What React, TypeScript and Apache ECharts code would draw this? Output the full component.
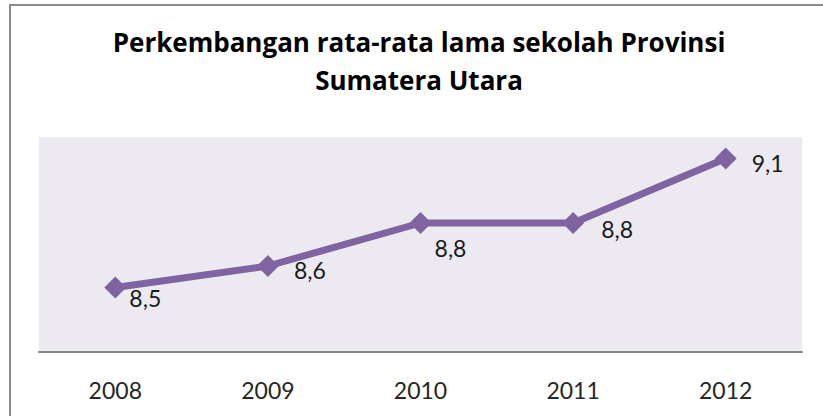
import React, { useEffect, useRef } from "react";
import * as echarts from "echarts";

const titleLines = ["Perkembangan rata-rata lama sekolah Provinsi", "Sumatera Utara"];
const years = ["2008", "2009", "2010", "2011", "2012"];
const values = [8.5, 8.6, 8.8, 8.8, 9.1];
const valueLabels = ["8,5", "8,6", "8,8", "8,8", "9,1"];

export default function App() {
  const ref = useRef<HTMLDivElement>(null);
  useEffect(() => {
    if (!ref.current) return;
    const chart = echarts.init(ref.current, null, { renderer: "svg" });
    const labelPos: number[][] = [
      [41, 21],
      [53, 15],
      [41, 36],
      [55, 17],
      [53, 15],
    ];
    chart.setOption({
      animation: false,
      backgroundColor: "#ffffff",
      title: {
        text: titleLines.join("\n"),
        left: 414,
        textAlign: "center",
        top: 18,
        textStyle: {
          fontFamily: "Open Sans",
          fontWeight: "bold",
          fontSize: 26,
          lineHeight: 38,
          color: "#000000",
        },
      },
      graphic: [
        {
          type: "rect",
          shape: { x: 10, y: 5, width: 900, height: 500 },
          style: { fill: "none", stroke: "#8a8a8a", lineWidth: 2 },
          silent: true,
        },
      ],
      grid: {
        left: 39,
        right: 21,
        top: 137,
        bottom: 64,
        show: true,
        backgroundColor: "#ECEAF0",
        borderWidth: 0,
      },
      xAxis: {
        type: "category",
        data: years,
        boundaryGap: true,
        axisLine: { lineStyle: { color: "#868686", width: 2 } },
        axisTick: { show: false },
        axisLabel: {
          fontFamily: "Lato",
          fontSize: 23,
          color: "#262626",
          margin: 26,
        },
      },
      yAxis: {
        type: "value",
        min: 8.2,
        max: 9.2,
        show: false,
        splitLine: { show: false },
      },
      series: [
        {
          type: "line",
          data: values.map((v, i) => ({
            value: v,
            label: {
              show: true,
              position: labelPos[i],
              align: "center",
              verticalAlign: "middle",
              formatter: valueLabels[i],
            },
          })),
          symbol: "diamond",
          symbolSize: 22,
          lineStyle: { color: "#8064A2", width: 7 },
          itemStyle: { color: "#8064A2" },
          label: {
            show: true,
            fontFamily: "Lato",
            fontSize: 23,
            color: "#1a1a1a",
          },
        },
      ],
    });
    return () => chart.dispose();
  }, []);
  return (
    <div
      ref={ref}
      style={{ position: "fixed", left: 0, top: 0, width: 823, height: 416 }}
    />
  );
}
